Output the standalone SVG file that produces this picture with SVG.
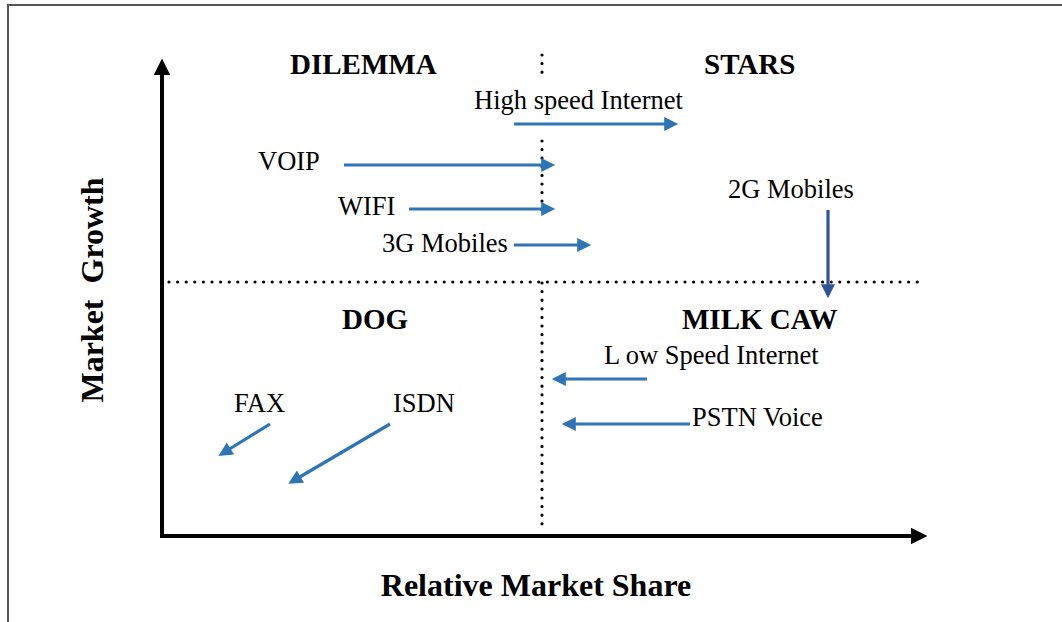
<svg xmlns="http://www.w3.org/2000/svg" width="1062" height="622" viewBox="0 0 1062 622">
  <style>
    .lbl { font-family: "Liberation Serif", "Times New Roman", serif; font-size: 26.5px; fill: #000; }
    .quad { font-family: "Liberation Serif", "Times New Roman", serif; font-size: 29px; font-weight: bold; fill: #000; }
    .axis-title { font-family: "Liberation Serif", "Times New Roman", serif; font-size: 32px; font-weight: bold; fill: #000; }
    .axis { stroke: #000; stroke-width: 4; fill: none; }
    .dots { stroke: #000; stroke-width: 3.2; stroke-linecap: round; stroke-dasharray: 0 8.6; fill: none; }
    .move { stroke: #2E75B6; stroke-width: 3.2; fill: none; marker-end: url(#blueHead); }
    .move-dark { stroke: #2F5597; stroke-width: 3.2; fill: none; marker-end: url(#darkHead); }
  </style>
  <defs>
    <marker id="axisHead" viewBox="0 0 10 10" refX="2" refY="5" markerWidth="4.2" markerHeight="4.2" orient="auto" markerUnits="strokeWidth">
      <path d="M0,0 L10,5 L0,10 z" fill="#000"/>
    </marker>
    <marker id="blueHead" viewBox="0 0 10 10" refX="2" refY="5" markerWidth="5" markerHeight="4.4" orient="auto" markerUnits="strokeWidth">
      <path d="M0,0 L10,5 L0,10 z" fill="#2E75B6"/>
    </marker>
    <marker id="darkHead" viewBox="0 0 10 10" refX="2" refY="5" markerWidth="5" markerHeight="4.4" orient="auto" markerUnits="strokeWidth">
      <path d="M0,0 L10,5 L0,10 z" fill="#2F5597"/>
    </marker>
  </defs>

  <rect width="1062" height="622" fill="#fff"/>
  <!-- page frame -->
  <path d="M8,640 L8,5 L1080,5" fill="none" stroke="#555" stroke-width="2"/>

  <!-- axes -->
  <g id="axes">
    <path class="axis" d="M162,538 L162,72" marker-end="url(#axisHead)"/>
    <path class="axis" d="M160,536 L914,536" marker-end="url(#axisHead)"/>
  </g>

  <!-- quadrant dividers -->
  <g id="dividers">
    <path class="dots" d="M542,55 L542,74"/>
    <path class="dots" d="M542,141 L542,218"/>
    <path class="dots" d="M542,283 L542,530"/>
    <path class="dots" d="M169,282 L920,282"/>
  </g>

  <!-- quadrant titles -->
  <g id="quadrants">
    <text class="quad" x="290" y="74">DILEMMA</text>
    <text class="quad" x="704" y="74">STARS</text>
    <text class="quad" x="342" y="329">DOG</text>
    <text class="quad" x="682" y="329">MILK CAW</text>
  </g>

  <!-- axis titles -->
  <g id="axis-titles">
    <text class="axis-title" x="0" y="0" text-anchor="middle" transform="translate(103,290) rotate(-90)" xml:space="preserve">Market  Growth</text>
    <text class="axis-title" x="536" y="596" text-anchor="middle">Relative Market Share</text>
  </g>

  <!-- service items -->
  <g id="high-speed-internet">
    <text class="lbl" x="474" y="109">High speed Internet</text>
  </g>
  <g id="voip">
    <text class="lbl" x="258" y="170">VOIP</text>
  </g>
  <g id="wifi">
    <text class="lbl" x="338" y="215">WIFI</text>
  </g>
  <g id="mobiles-3g">
    <text class="lbl" x="382" y="252">3G Mobiles</text>
  </g>
  <g id="mobiles-2g">
    <text class="lbl" x="728" y="198">2G Mobiles</text>
  </g>
  <g id="low-speed-internet">
    <text class="lbl" x="604" y="364">L ow Speed Internet</text>
  </g>
  <g id="pstn-voice">
    <text class="lbl" x="692" y="426">PSTN Voice</text>
  </g>
  <g id="fax">
    <text class="lbl" x="234" y="412">FAX</text>
  </g>
  <g id="isdn">
    <text class="lbl" x="393" y="412">ISDN</text>
  </g>

  <!-- movement arrows -->
  <g id="connectors">
    <path class="move" d="M514,124 L667,124"/>
    <path class="move" d="M344,165 L544,165"/>
    <path class="move" d="M409,209 L544,209"/>
    <path class="move" d="M514,245 L580,245"/>
    <path class="move-dark" d="M828,210 L828,287"/>
    <path class="move" d="M647,379 L563,379"/>
    <path class="move" d="M690,424 L573,424"/>
    <path class="move" d="M270,424 L228,450"/>
    <path class="move" d="M390,424 L298,478"/>
  </g>
</svg>
